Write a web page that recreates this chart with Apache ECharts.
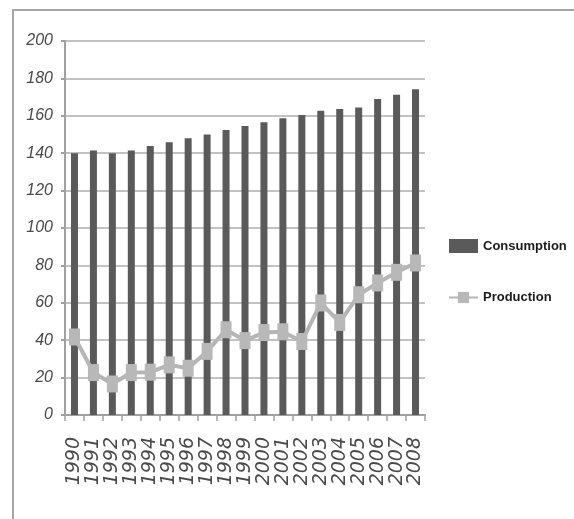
<!DOCTYPE html>
<html>
<head>
<meta charset="utf-8">
<script src="https://cdn.jsdelivr.net/npm/echarts@6/dist/echarts.min.js"></script>
<style>
  html, body { margin: 0; padding: 0; background: #ffffff; }
  #chart { width: 574px; height: 519px; }
</style>
</head>
<body>
<div id="chart"></div>
<script>
// Years on the category axis
var years = ['1990','1991','1992','1993','1994','1995','1996','1997','1998','1999',
             '2000','2001','2002','2003','2004','2005','2006','2007','2008'];
// Consumption per year (bars)
var consumption = [140, 141.5, 140, 141.5, 143.8, 145.8, 148, 150, 152.4, 154.5,
                   156.5, 158.7, 160.4, 162.7, 163.6, 164.5, 169, 171.3, 174.2];
// Production per year (line)
var production = [41.7, 22.7, 16.6, 22.7, 22.9, 26.8, 25, 34, 45.6, 39.8,
                  44.1, 44.5, 39.3, 59.9, 49.5, 64.3, 70.6, 76.3, 81.3];
// Value axis ticks
var yMin = 0, yMax = 200, yStep = 20;

var chart = echarts.init(document.getElementById('chart'), null, { renderer: 'canvas' });

chart.setOption({
  animation: false,
  backgroundColor: '#ffffff',
  graphic: [{
    type: 'rect',
    shape: { x: 13, y: 10, width: 700, height: 700 },
    style: { fill: 'none', stroke: '#a6a6a6', lineWidth: 2 },
    silent: true
  }],
  grid: { left: 65, right: 149, top: 41, bottom: 104 },
  legend: {
    orient: 'vertical',
    left: 443,
    top: 234,
    itemGap: 38,
    itemWidth: 29,
    itemHeight: 14,
    textStyle: {
      fontFamily: 'Liberation Sans',
      fontWeight: 'bold',
      fontSize: 13,
      color: '#1a1a1a'
    },
    data: [
      { name: 'Consumption', icon: 'rect' },
      { name: 'Production' }
    ]
  },
  xAxis: {
    type: 'category',
    data: years,
    boundaryGap: true,
    axisLine: { lineStyle: { color: '#a0a0a0', width: 2 } },
    axisTick: { show: true, length: 6, lineStyle: { color: '#a0a0a0', width: 1.5 } },
    axisLabel: {
      rotate: 90,
      interval: 0,
      margin: 22,
      fontFamily: 'DejaVu Sans',
      fontStyle: 'italic',
      fontSize: 19,
      color: '#4a4a4a'
    }
  },
  yAxis: {
    type: 'value',
    min: yMin,
    max: yMax,
    interval: yStep,
    axisLine: { show: true, lineStyle: { color: '#a0a0a0', width: 2 } },
    axisTick: { show: true, length: 4, lineStyle: { color: '#a0a0a0', width: 2 } },
    splitLine: { lineStyle: { color: '#c2c2c2', width: 2 } },
    axisLabel: {
      margin: 12,
      fontFamily: 'Liberation Sans',
      fontStyle: 'italic',
      fontSize: 16,
      color: '#4a4a4a'
    }
  },
  series: [
    {
      name: 'Consumption',
      type: 'bar',
      data: consumption,
      barWidth: 7,
      itemStyle: { color: '#5a5a5a' }
    },
    {
      name: 'Production',
      type: 'line',
      data: production,
      symbol: 'rect',
      symbolSize: [11, 17],
      lineStyle: { color: '#b5b5b5', width: 4 },
      itemStyle: { color: '#b8b8b8' },
      z: 5
    }
  ]
});
</script>
</body>
</html>
